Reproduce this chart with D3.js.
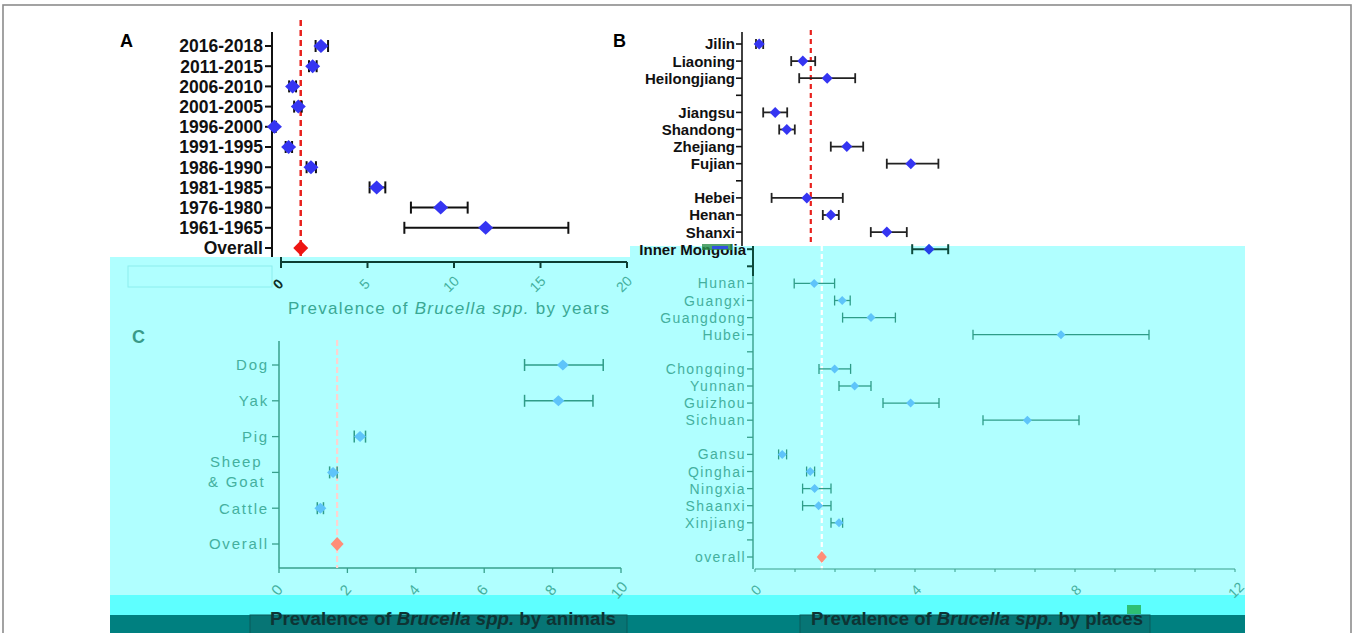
<!DOCTYPE html>
<html><head><meta charset="utf-8">
<script src="https://cdn.jsdelivr.net/npm/d3@7"></script>
<style>body{margin:0;background:#fff;overflow:hidden}svg{display:block;font-family:"Liberation Sans",Arial,sans-serif}</style>
</head><body><svg id="chart" width="1357" height="633"></svg>
<script>
// ---------- DATA ----------
const yearCats = ["2016-2018","2011-2015","2006-2010","2001-2005","1996-2000","1991-1995","1986-1990","1981-1985","1976-1980","1961-1965","Overall"];
const yearEst  = [2.31,1.83,0.67,1.00,-0.38,0.44,1.73,5.53,9.23,11.83,1.14];
const yearLow  = [2.00,1.62,0.47,0.76,-0.45,0.27,1.48,5.12,7.51,7.13,null];
const yearHigh = [2.72,2.06,0.87,1.20,-0.30,0.64,2.02,6.03,10.79,16.61,null];
const yearTicks = [0,5,10,15,20];

const placeCats = ["Jilin","Liaoning","Heilongjiang","_g1","Jiangsu","Shandong","Zhejiang","Fujian","_g2","Hebei","Henan","Shanxi","Inner Mongolia","_g3","Hunan","Guangxi","Guangdong","Hubei","_g4","Chongqing","Yunnan","Guizhou","Sichuan","_g5","Gansu","Qinghai","Ningxia","Shaanxi","Xinjiang","_g6","overall"];
const placeEst  = [0.38,1.47,2.08,null,0.78,1.07,2.57,4.17,null,1.57,2.17,3.57,4.35,null,1.48,2.18,2.90,7.65,null,1.99,2.49,3.89,6.81,null,0.68,1.38,1.49,1.59,2.10,null,1.67];
const placeLow  = [0.30,1.18,1.38,null,0.48,0.88,2.17,3.57,null,0.69,1.97,3.17,3.93,null,0.98,1.99,2.19,5.45,null,1.60,2.10,3.20,5.70,null,0.59,1.29,1.19,1.19,1.90,null,null];
const placeHigh = [0.48,1.78,2.78,null,1.08,1.27,2.98,4.86,null,2.47,2.37,4.07,4.83,null,1.99,2.38,3.51,9.85,null,2.39,2.90,4.60,8.10,null,0.79,1.49,1.90,1.90,2.19,null,null];
const placeTicks = [0,4,8,12];

const animalCats = ["Dog","Yak","Pig","Sheep & Goat","Cattle","Overall"];
const animalEst  = [8.30,8.17,2.37,1.58,1.21,1.70];
const animalLow  = [7.18,7.18,2.20,1.48,1.12,null];
const animalHigh = [9.48,9.18,2.53,1.70,1.30,null];
const animalTicks = [0,2,4,6,8,10];

// ---------- HELPERS ----------
const svg = d3.select("#chart");
const dia = (w,h) => `M0,${-h}L${w},0L0,${h}L${-w},0Z`;
const teal = "#3aa894", tealAxis = "#38a08c", tealLbl = "#44b09e";

// background frame & bands
svg.append("rect").attr("x",3).attr("y",5).attr("width",1348).attr("height",640)
  .attr("fill","#fff").attr("stroke","#8c8c8c").attr("stroke-width",1.6);

// ---------- PANEL A (top, white) ----------
const xA = d3.scaleLinear().domain([0,20]).range([281,627]);
const yA = d3.scalePoint().domain(yearCats).range([46,248]);
const gA = svg.append("g");
gA.append("text").attr("x",120).attr("y",47).text("A").attr("font-weight","bold").attr("font-size",18);
gA.append("line").attr("x1",272).attr("x2",272).attr("y1",32).attr("y2",258).attr("stroke","#111").attr("stroke-width",2);
yearCats.forEach((c,i)=>{
  const y=yA(c);
  gA.append("line").attr("x1",265).attr("x2",272).attr("y1",y).attr("y2",y).attr("stroke","#111").attr("stroke-width",2);
  gA.append("text").attr("x",263).attr("y",y).attr("dy","0.36em").attr("text-anchor","end")
    .attr("font-weight","bold").attr("font-size",17.5).attr("fill","#111").text(c);
});
gA.append("line").attr("x1",xA(yearEst[10])).attr("x2",xA(yearEst[10])).attr("y1",20).attr("y2",257)
  .attr("stroke","#e8211d").attr("stroke-width",2.5).attr("stroke-dasharray","6,4");
yearCats.forEach((c,i)=>{
  const y=yA(c);
  if(yearLow[i]!=null){
    gA.append("line").attr("x1",xA(yearLow[i])).attr("x2",xA(yearHigh[i])).attr("y1",y).attr("y2",y).attr("stroke","#111").attr("stroke-width",2);
    [yearLow[i],yearHigh[i]].forEach(v=>gA.append("line").attr("x1",xA(v)).attr("x2",xA(v)).attr("y1",y-6).attr("y2",y+6).attr("stroke","#111").attr("stroke-width",2));
    gA.append("path").attr("d",dia(7.5,7)).attr("transform",`translate(${xA(yearEst[i])},${y})`).attr("fill","#3535f2");
  } else {
    gA.append("path").attr("d",dia(7.5,7.5)).attr("transform",`translate(${xA(yearEst[i])},${y})`).attr("fill","#ee1512");
  }
});

// ---------- PANEL B top part (white) ----------
const xB = d3.scaleLinear().domain([0,12]).range([755,1235]);
const yB = d3.scalePoint().domain(placeCats).range([44,557]);
const shiftTop = -11;
const gBt = svg.append("g").attr("transform",`translate(${shiftTop},0)`);
svg.append("text").attr("x",613).attr("y",47).text("B").attr("font-weight","bold").attr("font-size",18);
gBt.append("line").attr("x1",753).attr("x2",753).attr("y1",32).attr("y2",246).attr("stroke","#111").attr("stroke-width",1.6);
gBt.append("line").attr("x1",xB(placeEst[30])).attr("x2",xB(placeEst[30])).attr("y1",30).attr("y2",246)
  .attr("stroke","#e8211d").attr("stroke-width",2.2).attr("stroke-dasharray","5,4");
placeCats.forEach((c,i)=>{
  if(i>11) return;
  const y=yB(c);
  gBt.append("line").attr("x1",747).attr("x2",753).attr("y1",y).attr("y2",y).attr("stroke","#111").attr("stroke-width",1.6);
  if(!c.startsWith("_g")) gBt.append("text").attr("x",746).attr("y",y).attr("dy","0.36em").attr("text-anchor","end")
    .attr("font-weight","bold").attr("font-size",15).attr("fill","#111").text(c);
  if(placeEst[i]!=null){
    gBt.append("line").attr("x1",xB(placeLow[i])).attr("x2",xB(placeHigh[i])).attr("y1",y).attr("y2",y).attr("stroke","#222").attr("stroke-width",1.8);
    [placeLow[i],placeHigh[i]].forEach(v=>gBt.append("line").attr("x1",xB(v)).attr("x2",xB(v)).attr("y1",y-5).attr("y2",y+5).attr("stroke","#222").attr("stroke-width",1.8));
    gBt.append("path").attr("d",dia(5.5,5.5)).attr("transform",`translate(${xB(placeEst[i])},${y})`).attr("fill","#3535f2");
  }
});

// ---------- CYAN OVERLAY ----------
svg.append("path").attr("d","M110,257L630,257L630,246L1245,246L1245,595L110,595Z").attr("fill","#b0ffff");
svg.append("rect").attr("x",110).attr("y",595).attr("width",1135).attr("height",20).attr("fill","#5effff");
svg.append("rect").attr("x",110).attr("y",615).attr("width",1135).attr("height",20).attr("fill","#008080");
svg.append("rect").attr("x",128).attr("y",266).attr("width",144).attr("height",21).attr("fill","none").attr("stroke","#8ceeee").attr("stroke-width",1);
svg.append("rect").attr("x",250).attr("y",615).attr("width",377).attr("height",20).attr("fill","#077575").attr("stroke","#0b5a5a");
svg.append("rect").attr("x",800).attr("y",615).attr("width",350).attr("height",20).attr("fill","#077575").attr("stroke","#0b5a5a");

// Inner Mongolia label (dark style)
const yIM = yB(placeCats[12]);
svg.append("text").attr("x",746).attr("y",yIM).attr("dy","0.36em").attr("text-anchor","end")
  .attr("font-weight","bold").attr("font-size",15).attr("fill","#111").text(placeCats[12]);
svg.append("rect").attr("x",702).attr("y",244).attr("width",30).attr("height",6).attr("fill","#2d8f4a").attr("opacity",0.8);
svg.append("rect").attr("x",712).attr("y",246).attr("width",16).attr("height",3).attr("fill","#3050e0");

// ---------- A x-axis (in cyan) ----------
const gAx = svg.append("g");
gAx.append("line").attr("x1",xA(0)).attr("x2",xA(20)).attr("y1",262).attr("y2",262).attr("stroke","#0d3d33").attr("stroke-width",2.2);
yearTicks.forEach(t=>{
  gAx.append("line").attr("x1",xA(t)).attr("x2",xA(t)).attr("y1",t===0?257:262).attr("y2",268).attr("stroke","#0d3d33").attr("stroke-width",2);
  gAx.append("text").attr("transform",`translate(${xA(t)-3},${284}) rotate(-45)`).attr("text-anchor","middle").attr("dy","0.35em")
    .attr("font-size",14).attr("fill",t===0?"#0d2d25":tealLbl).attr("font-weight",t===0?"bold":"normal").text(t);
});
const tA = gAx.append("text").attr("x",288).attr("y",314).attr("font-size",17).attr("fill",teal).attr("textLength",321).attr("lengthAdjust","spacing");
tA.append("tspan").text("Prevalence of ");
tA.append("tspan").attr("font-style","italic").text("Brucella spp.");
tA.append("tspan").text(" by years");

// ---------- PANEL B lower part ----------
const gB = svg.append("g");
gB.append("line").attr("x1",753).attr("x2",753).attr("y1",246).attr("y2",569).attr("stroke",tealAxis).attr("stroke-width",1.4);
gB.append("line").attr("x1",753).attr("x2",753).attr("y1",246).attr("y2",276).attr("stroke","#0d4a3c").attr("stroke-width",2);
gB.append("line").attr("x1",xB(placeEst[30])).attr("x2",xB(placeEst[30])).attr("y1",246).attr("y2",570)
  .attr("stroke","#ffffff").attr("stroke-width",2.2).attr("stroke-dasharray","5,3");
placeCats.forEach((c,i)=>{
  if(i<12) return;
  const y=yB(c);
  const dark = i===12 || i===13;
  gB.append("line").attr("x1",747).attr("x2",753).attr("y1",y).attr("y2",y).attr("stroke",dark?"#0d4a3c":tealAxis).attr("stroke-width",dark?2:1.3);
  if(i>12 && !c.startsWith("_g")) gB.append("text").attr("x",746).attr("y",y).attr("dy","0.36em").attr("text-anchor","end")
    .attr("font-size",14).attr("letter-spacing",1.4).attr("fill",tealLbl).text(c);
  if(placeLow[i]!=null){
    const ec = i===12?"#0d4a3c":"#2f9c88", ew = i===12?2:1.3;
    gB.append("line").attr("x1",xB(placeLow[i])).attr("x2",xB(placeHigh[i])).attr("y1",y).attr("y2",y).attr("stroke",ec).attr("stroke-width",ew);
    [placeLow[i],placeHigh[i]].forEach(v=>gB.append("line").attr("x1",xB(v)).attr("x2",xB(v)).attr("y1",y-5).attr("y2",y+5).attr("stroke",ec).attr("stroke-width",ew));
    gB.append("path").attr("d",i===12?dia(5.5,5.5):dia(4.5,4.5)).attr("transform",`translate(${xB(placeEst[i])},${y})`).attr("fill",i===12?"#2540e8":"#5ec4fa");
  } else if(placeEst[i]!=null){
    gB.append("path").attr("d",dia(5,6)).attr("transform",`translate(${xB(placeEst[i])},${y})`).attr("fill","#ff8d78");
  }
});
gB.append("line").attr("x1",xB(0)).attr("x2",xB(12)).attr("y1",569).attr("y2",569).attr("stroke",tealAxis).attr("stroke-width",1.2);
d3.range(0,13).forEach(t=>gB.append("line").attr("x1",xB(t)).attr("x2",xB(t)).attr("y1",569).attr("y2",572).attr("stroke",tealAxis).attr("stroke-width",1));
placeTicks.forEach(t=>gB.append("text").attr("transform",`translate(${xB(t)+1},${590}) rotate(-45)`).attr("text-anchor","middle").attr("dy","0.35em")
  .attr("font-size",14).attr("fill",tealLbl).text(t));

// ---------- PANEL C ----------
const xC = d3.scaleLinear().domain([0,10]).range([279,621]);
const yC = d3.scalePoint().domain(animalCats).range([365,544]);
const gC = svg.append("g");
gC.append("text").attr("x",132).attr("y",343).text("C").attr("font-weight","bold").attr("font-size",18).attr("fill","#3a9a88");
gC.append("line").attr("x1",279).attr("x2",279).attr("y1",341).attr("y2",568).attr("stroke",tealAxis).attr("stroke-width",1.5);
gC.append("line").attr("x1",xC(0)).attr("x2",xC(10)).attr("y1",568).attr("y2",568).attr("stroke",tealAxis).attr("stroke-width",1.5);
animalTicks.forEach(t=>{
  gC.append("line").attr("x1",xC(t)).attr("x2",xC(t)).attr("y1",568).attr("y2",573).attr("stroke",tealAxis).attr("stroke-width",1.3);
  gC.append("text").attr("transform",`translate(${xC(t)-2},${590}) rotate(-50)`).attr("text-anchor","middle").attr("dy","0.35em")
    .attr("font-size",15).attr("fill",tealLbl).text(t);
});
gC.append("line").attr("x1",xC(animalEst[5])).attr("x2",xC(animalEst[5])).attr("y1",340).attr("y2",568)
  .attr("stroke","#ffd4d0").attr("stroke-width",2.2).attr("stroke-dasharray","6,3");
animalCats.forEach((c,i)=>{
  const y=yC(c);
  gC.append("line").attr("x1",272).attr("x2",279).attr("y1",y).attr("y2",y).attr("stroke",tealAxis).attr("stroke-width",1.3);
  if(c==="Sheep & Goat"){
    gC.append("text").attr("x",210).attr("y",y-5).attr("font-size",15).attr("letter-spacing",1.8).attr("fill",tealLbl).text("Sheep");
    gC.append("text").attr("x",208).attr("y",y+15).attr("font-size",15).attr("letter-spacing",1.8).attr("fill",tealLbl).text("& Goat");
  } else {
    gC.append("text").attr("x",269).attr("y",y).attr("dy","0.36em").attr("text-anchor","end")
      .attr("font-size",15).attr("letter-spacing",1.8).attr("fill",tealLbl).text(c);
  }
  if(animalLow[i]!=null){
    gC.append("line").attr("x1",xC(animalLow[i])).attr("x2",xC(animalHigh[i])).attr("y1",y).attr("y2",y).attr("stroke","#2f9c88").attr("stroke-width",1.5);
    [animalLow[i],animalHigh[i]].forEach(v=>gC.append("line").attr("x1",xC(v)).attr("x2",xC(v)).attr("y1",y-6).attr("y2",y+6).attr("stroke","#2f9c88").attr("stroke-width",1.5));
    gC.append("path").attr("d",dia(6,5.5)).attr("transform",`translate(${xC(animalEst[i])},${y})`).attr("fill","#5ec4fa");
  } else {
    gC.append("path").attr("d",dia(6.5,7)).attr("transform",`translate(${xC(animalEst[i])},${y})`).attr("fill","#ff8d78");
  }
});

// ---------- bottom titles ----------
function title(x,len,word){
  const t = svg.append("text").attr("x",x).attr("y",625).attr("font-size",17.5).attr("font-weight","bold")
    .attr("fill","#0e3434").attr("textLength",len).attr("lengthAdjust","spacingAndGlyphs");
  t.append("tspan").text("Prevalence of ");
  t.append("tspan").attr("font-style","italic").text("Brucella spp.");
  t.append("tspan").text(" by "+word);
}
title(270,346,"animals");
title(811,332,"places");
svg.append("rect").attr("x",1127).attr("y",605).attr("width",14).attr("height",9).attr("fill","#22b050").attr("opacity",0.8);
</script></body></html>
